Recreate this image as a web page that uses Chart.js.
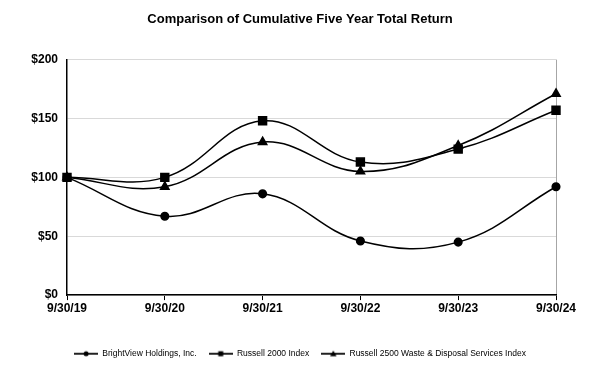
<!DOCTYPE html>
<html>
<head>
<meta charset="utf-8">
<script src="https://cdn.jsdelivr.net/npm/chart.js@4/dist/chart.umd.min.js"></script>
<style>
  html, body { margin: 0; padding: 0; background: #fff; }
  #wrap { width: 612px; height: 382px; }
</style>
</head>
<body>
<div id="wrap"><canvas id="returnChart" width="612" height="382"></canvas></div>
<script>
// Cumulative five year total return ($100 invested 9/30/19)
const years = ['9/30/19', '9/30/20', '9/30/21', '9/30/22', '9/30/23', '9/30/24'];
const brightView = [100, 67, 86, 46, 45, 92];
const russell2000 = [100, 100, 148, 113, 124, 157];
const russell2500Waste = [100, 92, 130, 105, 127, 171];
const yTicks = [0, 50, 100, 150, 200];

// small line+marker swatch for the legend
function swatch(style) {
    const c = document.createElement('canvas');
    c.width = 24; c.height = 10;
    const g = c.getContext('2d');
    g.strokeStyle = '#222'; g.fillStyle = '#000'; g.lineWidth = 2;
    g.beginPath(); g.moveTo(0, 5); g.lineTo(24, 5); g.stroke();
    g.beginPath();
    if (style === 'circle') { g.arc(12, 5, 2.5, 0, Math.PI * 2); }
    else if (style === 'rect') { g.rect(9.5, 2.5, 5, 5); }
    else { g.moveTo(12, 1.8); g.lineTo(15.2, 7.6); g.lineTo(8.8, 7.6); g.closePath(); }
    g.fill();
    return c;
}

const makeSet = (label, data, style, radius) => ({
    label: label,
    data: data,
    borderColor: '#000',
    backgroundColor: '#000',
    borderWidth: 1.5,
    pointStyle: style,
    pointRadius: radius,
    pointHoverRadius: radius,
    tension: 0.4,
    clip: false,
    legendIcon: swatch(style)
});

const returnCtx = document.getElementById('returnChart').getContext('2d');
const returnChart = new Chart(returnCtx, {
    type: 'line',
    data: {
        labels: years,
        datasets: [
            makeSet('BrightView Holdings, Inc.', brightView, 'circle', 3.8),
            makeSet('Russell 2000 Index', russell2000, 'rect', 5.6),
            makeSet('Russell 2500 Waste & Disposal Services Index', russell2500Waste, 'triangle', 4.8)
        ]
    },
    options: {
        responsive: false,
        animation: false,
        layout: { padding: { left: 0, right: 12, top: 4, bottom: 14 } },
        scales: {
            x: {
                offset: false,
                afterFit: s => { s.height += 21; },
                grid: {
                    color: ctx => ctx.index === years.length - 1 ? '#a6a6a6' : 'transparent',
                    tickColor: '#000',
                    tickLength: 5
                },
                border: { color: '#000', width: 1.5 },
                ticks: {
                    color: '#000',
                    padding: 1,
                    maxRotation: 0,
                    font: { family: 'Liberation Sans', size: 12, weight: 'bold' }
                }
            },
            y: {
                min: 0,
                max: 200,
                afterFit: s => { s.width = 67; },
                afterBuildTicks: s => { s.ticks = yTicks.map(v => ({ value: v })); },
                grid: { color: '#d9d9d9', drawTicks: false },
                border: { color: '#000', width: 1.5 },
                ticks: {
                    color: '#000',
                    padding: 9,
                    callback: v => '$' + v,
                    font: { family: 'Liberation Sans', size: 12, weight: 'bold' }
                }
            },
            // empty right axis only to reserve space on the right
            yRight: {
                position: 'right',
                min: 0,
                max: 200,
                afterFit: s => { s.width = 44; },
                grid: { display: false },
                border: { display: false },
                ticks: { display: false }
            }
        },
        plugins: {
            title: {
                display: true,
                text: 'Comparison of Cumulative Five Year Total Return',
                color: '#000',
                padding: { top: 8, bottom: 32 },
                font: { family: 'Liberation Sans', size: 13, weight: 'bold' }
            },
            legend: {
                position: 'bottom',
                labels: {
                    color: '#000',
                    usePointStyle: true,
                    pointStyleWidth: 24,
                    boxHeight: 9,
                    padding: 12,
                    font: { family: 'Liberation Sans', size: 8.5 },
                    generateLabels: chart => chart.data.datasets.map((ds, i) => ({
                        text: ds.label,
                        pointStyle: ds.legendIcon,
                        fontColor: '#000',
                        strokeStyle: '#000',
                        fillStyle: '#000',
                        lineWidth: 0,
                        datasetIndex: i
                    }))
                }
            },
            tooltip: { enabled: false }
        }
    }
});
</script>
</body>
</html>
